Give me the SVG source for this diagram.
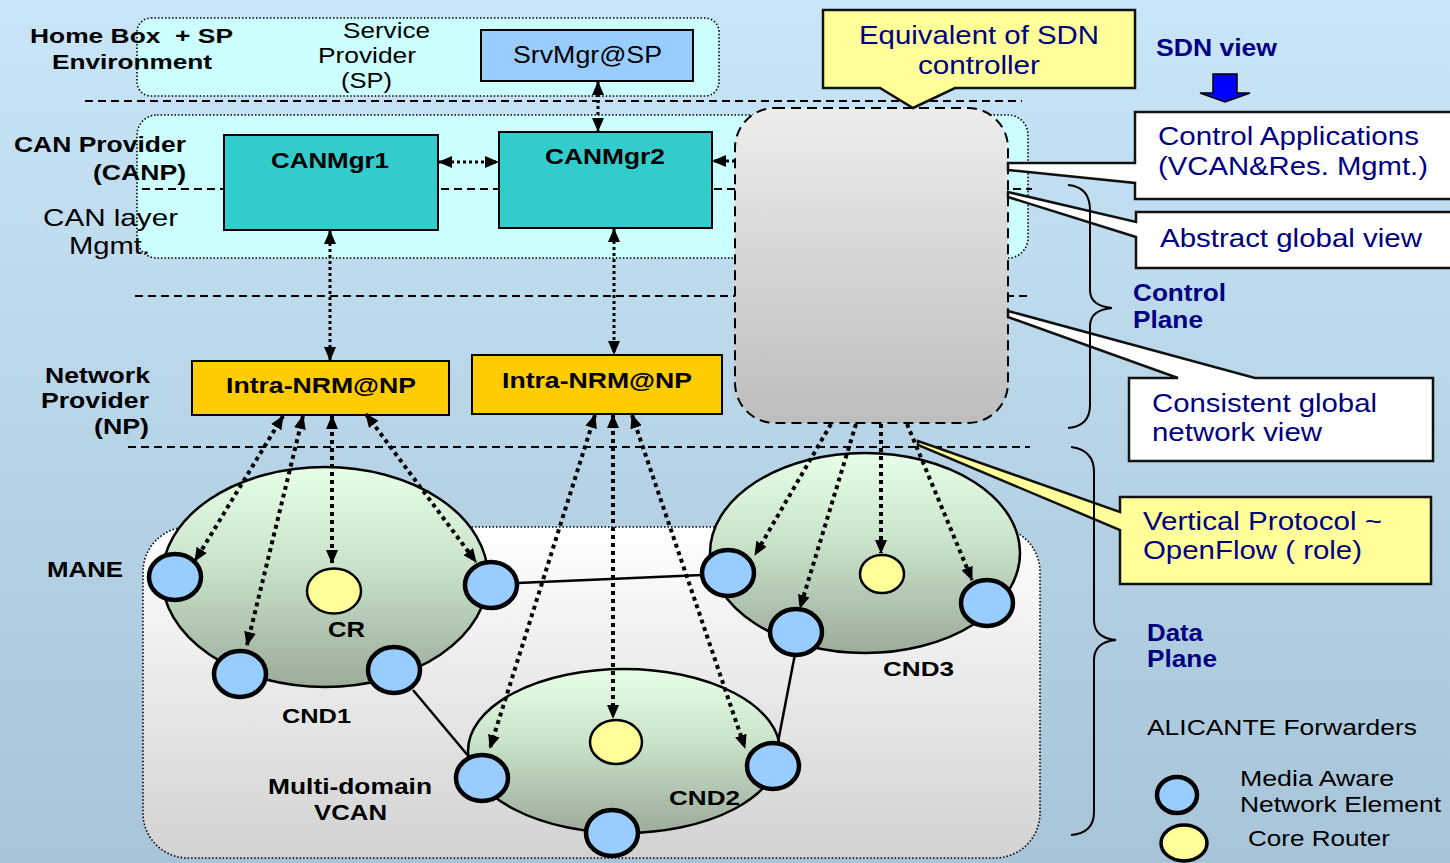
<svg xmlns="http://www.w3.org/2000/svg" width="1450" height="863" viewBox="0 0 1450 863">
<defs>
<linearGradient id="bg" x1="0" y1="0" x2="0" y2="1"><stop offset="0" stop-color="#c8e6f8"/><stop offset="1" stop-color="#a8c4d8"/></linearGradient>
<linearGradient id="ctrl" x1="0" y1="0" x2="0" y2="1"><stop offset="0" stop-color="#ededed"/><stop offset="1" stop-color="#bdbdbd"/></linearGradient>
<linearGradient id="data" x1="0" y1="0" x2="0" y2="1"><stop offset="0" stop-color="#ffffff"/><stop offset="1" stop-color="#d2d2d2"/></linearGradient>
<linearGradient id="cnd" x1="0" y1="0" x2="0" y2="1"><stop offset="0" stop-color="#e6ffe6"/><stop offset="0.45" stop-color="#c9e2c9"/><stop offset="1" stop-color="#9cab9a"/></linearGradient>
<marker id="ah" viewBox="0 0 14 12" refX="13" refY="6" markerWidth="14" markerHeight="12" markerUnits="userSpaceOnUse" orient="auto-start-reverse"><path d="M0,0 L14,6 L0,12 z" fill="#000"/></marker>
</defs>
<style>
text{font-family:"Liberation Sans",Arial,sans-serif;fill:#000}
.b{font-weight:bold}
.n{fill:#000080}
.dash{stroke:#000;stroke-width:2;stroke-dasharray:8 5;fill:none}
.dot{stroke:#000;stroke-width:1.6;stroke-dasharray:1.5 2;}
.mane{fill:#99ccff;stroke:#000;stroke-width:4.5}
.cr{fill:#ffff99;stroke:#000;stroke-width:2.5}
.cnd{fill:url(#cnd);stroke:#000;stroke-width:2.5}
.link{stroke:#000;stroke-width:2.5;fill:none}
.fa{stroke:#000;stroke-width:3;stroke-dasharray:3 3;fill:none}
.ta{stroke:#000;stroke-width:4;stroke-dasharray:4 4;fill:none}
.call{stroke:#111;stroke-width:2.5}
.brace{stroke:#000;stroke-width:2;fill:none}
</style>
<rect x="0" y="0" width="1450" height="863" fill="url(#bg)"/>

<!-- regions -->
<g id="region-home"><rect x="137" y="18" width="582" height="78" rx="14" fill="#ccffff" class="dot"/></g>
<g id="region-can"><rect x="137" y="115" width="891" height="143" rx="20" fill="#ccffff" class="dot"/></g>
<g id="separators">
<line x1="85" y1="101" x2="1022" y2="101" class="dash"/>
<line x1="142" y1="189" x2="1032" y2="189" class="dash"/>
<line x1="135" y1="296" x2="1028" y2="296" class="dash"/>
<line x1="128" y1="447" x2="1030" y2="447" class="dash"/>
</g>
<g id="region-data"><rect x="143" y="527" width="897" height="331" rx="45" fill="url(#data)" class="dot"/></g>

<!-- domains -->
<g id="cnd1"><ellipse cx="325" cy="577" rx="163" ry="110" class="cnd"/></g>
<g id="cnd2"><ellipse cx="624" cy="751" rx="156" ry="82" class="cnd"/></g>
<g id="cnd3"><ellipse cx="865" cy="553" rx="155" ry="100" class="cnd"/></g>

<!-- controller -->
<g id="sdn-controller"><rect x="735" y="108" width="273" height="315" rx="40" fill="url(#ctrl)" stroke="#000" stroke-width="2" stroke-dasharray="10 6"/></g>

<!-- boxes -->
<g id="srvmgr"><rect x="481" y="30" width="212" height="51" fill="#99ccff" stroke="#000" stroke-width="2"/>
<text x="513" y="63" font-size="24" textLength="149" lengthAdjust="spacingAndGlyphs">SrvMgr@SP</text></g>
<g id="canmgr1"><rect x="224" y="135" width="214" height="95" fill="#33cccc" stroke="#000" stroke-width="2"/>
<text x="271" y="168" font-size="22" class="b" textLength="118" lengthAdjust="spacingAndGlyphs">CANMgr1</text></g>
<g id="canmgr2"><rect x="499" y="132" width="213" height="96" fill="#33cccc" stroke="#000" stroke-width="2"/>
<text x="545" y="164" font-size="22" class="b" textLength="120" lengthAdjust="spacingAndGlyphs">CANMgr2</text></g>
<g id="nrm1"><rect x="192" y="361" width="257" height="54" fill="#ffcc00" stroke="#000" stroke-width="2"/>
<text x="226" y="393" font-size="22" class="b" textLength="190" lengthAdjust="spacingAndGlyphs">Intra-NRM@NP</text></g>
<g id="nrm2"><rect x="472" y="355" width="250" height="59" fill="#ffcc00" stroke="#000" stroke-width="2"/>
<text x="502" y="388" font-size="22" class="b" textLength="190" lengthAdjust="spacingAndGlyphs">Intra-NRM@NP</text></g>

<!-- callouts -->
<g id="callout-sdn"><path d="M823,10 H1135 V88 H955 L913,108 L880,88 H823 Z" fill="#ffff99" class="call"/>
<text x="859" y="44" font-size="26" class="n" textLength="240" lengthAdjust="spacingAndGlyphs">Equivalent of SDN</text>
<text x="918" y="74" font-size="26" class="n" textLength="122" lengthAdjust="spacingAndGlyphs">controller</text></g>
<g id="callout-apps"><path d="M1135,112 H1453 V199 H1135 V183 L1008,170 L1008,163 H1135 Z" fill="#fff" class="call"/>
<text x="1158" y="145" font-size="26" class="n" textLength="261" lengthAdjust="spacingAndGlyphs">Control Applications</text>
<text x="1158" y="175" font-size="26" class="n" textLength="270" lengthAdjust="spacingAndGlyphs">(VCAN&amp;Res. Mgmt.)</text></g>
<g id="callout-abstract"><path d="M1136,212 H1453 V268 H1136 V237 L1008,197 L1008,192 L1136,222 Z" fill="#fff" class="call"/>
<text x="1160" y="247" font-size="26" class="n" textLength="262" lengthAdjust="spacingAndGlyphs">Abstract global view</text></g>
<g id="callout-consistent"><path d="M1129,378 H1178 L1008,317 L1008,311 L1255,378 H1433 V461 H1129 Z" fill="#fff" class="call"/>
<text x="1152" y="412" font-size="26" class="n" textLength="225" lengthAdjust="spacingAndGlyphs">Consistent global</text>
<text x="1152" y="441" font-size="26" class="n" textLength="170" lengthAdjust="spacingAndGlyphs">network view</text></g>
<g id="callout-protocol"><path d="M1120,497 H1431 V584 H1120 V530 L918,445 L918,441 L1120,512 Z" fill="#ffff99" class="call"/>
<text x="1143" y="530" font-size="26" class="n" textLength="239" lengthAdjust="spacingAndGlyphs">Vertical Protocol ~</text>
<text x="1143" y="559" font-size="26" class="n" textLength="219" lengthAdjust="spacingAndGlyphs">OpenFlow ( role)</text></g>

<g id="sdn-view"><text x="1156" y="56" font-size="23" class="b n" textLength="121" lengthAdjust="spacingAndGlyphs">SDN view</text>
<polygon points="1213,74 1237,74 1237,93 1250,93 1225,102 1200,93 1213,93" fill="#0000ff" stroke="#000" stroke-width="1.5"/></g>

<!-- braces -->
<g id="brace-control"><path class="brace" d="M1068,185 Q1090,187 1090,210 L1090,290 Q1090,306 1112,308 Q1090,310 1090,326 L1090,405 Q1090,426 1068,428"/>
<text x="1133" y="301" font-size="23" class="b n" textLength="93" lengthAdjust="spacingAndGlyphs">Control</text>
<text x="1133" y="328" font-size="23" class="b n" textLength="70" lengthAdjust="spacingAndGlyphs">Plane</text></g>
<g id="brace-data"><path class="brace" d="M1071,447 Q1094,450 1094,472 L1094,620 Q1094,638 1116,640 Q1094,642 1094,660 L1094,812 Q1094,833 1071,835"/>
<text x="1147" y="641" font-size="23" class="b n" textLength="56" lengthAdjust="spacingAndGlyphs">Data</text>
<text x="1147" y="667" font-size="23" class="b n" textLength="70" lengthAdjust="spacingAndGlyphs">Plane</text></g>

<!-- connectors -->
<g id="connectors">
<line x1="518" y1="583" x2="702" y2="575" class="link"/>
<line x1="413" y1="690" x2="470" y2="758" class="link"/>
<line x1="795" y1="654" x2="778" y2="742" class="link"/>
<line x1="598" y1="82" x2="598" y2="131" class="fa" marker-start="url(#ah)" marker-end="url(#ah)"/>
<line x1="439" y1="162" x2="498" y2="162" class="fa" marker-start="url(#ah)" marker-end="url(#ah)"/>
<line x1="735" y1="161" x2="713" y2="161" class="fa" marker-end="url(#ah)"/>
<line x1="330" y1="231" x2="330" y2="360" class="fa" marker-start="url(#ah)" marker-end="url(#ah)"/>
<line x1="614" y1="229" x2="614" y2="354" class="fa" marker-start="url(#ah)" marker-end="url(#ah)"/>
<line x1="283" y1="416" x2="195" y2="561" class="ta" marker-start="url(#ah)" marker-end="url(#ah)"/>
<line x1="303" y1="416" x2="247" y2="645" class="ta" marker-start="url(#ah)" marker-end="url(#ah)"/>
<line x1="332" y1="416" x2="332" y2="563" class="ta" marker-start="url(#ah)" marker-end="url(#ah)"/>
<line x1="366" y1="414" x2="476" y2="562" class="ta" marker-start="url(#ah)" marker-end="url(#ah)"/>
<line x1="595" y1="415" x2="490" y2="748" class="ta" marker-start="url(#ah)" marker-end="url(#ah)"/>
<line x1="613" y1="415" x2="613" y2="718" class="ta" marker-start="url(#ah)" marker-end="url(#ah)"/>
<line x1="632" y1="415" x2="745" y2="748" class="ta" marker-start="url(#ah)" marker-end="url(#ah)"/>
<line x1="831" y1="424" x2="755" y2="555" class="ta" marker-end="url(#ah)"/>
<line x1="856" y1="424" x2="800" y2="608" class="ta" marker-end="url(#ah)"/>
<line x1="881" y1="424" x2="881" y2="553" class="ta" marker-end="url(#ah)"/>
<line x1="907" y1="424" x2="972" y2="580" class="ta" marker-end="url(#ah)"/>
</g>

<!-- nodes -->
<g id="cnd1-nodes">
<ellipse cx="175" cy="577" rx="26" ry="23" class="mane"/>
<ellipse cx="491" cy="585" rx="26" ry="23" class="mane"/>
<ellipse cx="240" cy="674" rx="26" ry="23" class="mane"/>
<ellipse cx="394" cy="670" rx="26" ry="23" class="mane"/>
<ellipse cx="334" cy="591" rx="27" ry="22.5" class="cr"/>
</g>
<g id="cnd2-nodes">
<ellipse cx="482" cy="778" rx="26" ry="23" class="mane"/>
<ellipse cx="773" cy="766" rx="26" ry="23" class="mane"/>
<ellipse cx="612" cy="833" rx="26" ry="23" class="mane"/>
<ellipse cx="616" cy="742" rx="26" ry="22" class="cr"/>
</g>
<g id="cnd3-nodes">
<ellipse cx="728" cy="573" rx="26" ry="23" class="mane"/>
<ellipse cx="796" cy="632" rx="26" ry="23" class="mane"/>
<ellipse cx="987" cy="603" rx="26" ry="23" class="mane"/>
<ellipse cx="882" cy="574" rx="22" ry="19" class="cr"/>
</g>

<!-- labels -->
<g id="labels">
<text x="30" y="43" font-size="21" class="b" xml:space="preserve" textLength="203" lengthAdjust="spacingAndGlyphs">Home Box  + SP</text>
<text x="52" y="69" font-size="21" class="b" textLength="160" lengthAdjust="spacingAndGlyphs">Environment</text>
<text x="343" y="38" font-size="22" textLength="87" lengthAdjust="spacingAndGlyphs">Service</text>
<text x="318" y="63" font-size="22" textLength="98" lengthAdjust="spacingAndGlyphs">Provider</text>
<text x="341" y="88" font-size="22" textLength="51" lengthAdjust="spacingAndGlyphs">(SP)</text>
<text x="14" y="152" font-size="22" class="b" textLength="172" lengthAdjust="spacingAndGlyphs">CAN Provider</text>
<text x="93" y="180" font-size="22" class="b" textLength="93" lengthAdjust="spacingAndGlyphs">(CANP)</text>
<text x="43" y="226" font-size="24" textLength="135" lengthAdjust="spacingAndGlyphs">CAN layer</text>
<text x="69" y="254" font-size="24" textLength="81" lengthAdjust="spacingAndGlyphs">Mgmt.</text>
<text x="45" y="383" font-size="22" class="b" textLength="105" lengthAdjust="spacingAndGlyphs">Network</text>
<text x="41" y="408" font-size="22" class="b" textLength="108" lengthAdjust="spacingAndGlyphs">Provider</text>
<text x="94" y="434" font-size="22" class="b" textLength="55" lengthAdjust="spacingAndGlyphs">(NP)</text>
<text x="47" y="577" font-size="22" class="b" textLength="76" lengthAdjust="spacingAndGlyphs">MANE</text>
<text x="328" y="637" font-size="22" class="b" textLength="37" lengthAdjust="spacingAndGlyphs">CR</text>
<text x="282" y="723" font-size="21" class="b" textLength="69" lengthAdjust="spacingAndGlyphs">CND1</text>
<text x="268" y="794" font-size="22" class="b" textLength="164" lengthAdjust="spacingAndGlyphs">Multi-domain</text>
<text x="314" y="820" font-size="22" class="b" textLength="73" lengthAdjust="spacingAndGlyphs">VCAN</text>
<text x="669" y="805" font-size="21" class="b" textLength="71" lengthAdjust="spacingAndGlyphs">CND2</text>
<text x="883" y="676" font-size="21" class="b" textLength="71" lengthAdjust="spacingAndGlyphs">CND3</text>
</g>

<!-- legend -->
<g id="legend">
<text x="1147" y="735" font-size="22" textLength="270" lengthAdjust="spacingAndGlyphs">ALICANTE Forwarders</text>
<ellipse cx="1177" cy="795" rx="20" ry="18" class="mane"/>
<text x="1240" y="786" font-size="22" textLength="154" lengthAdjust="spacingAndGlyphs">Media Aware</text>
<text x="1240" y="812" font-size="22" textLength="201" lengthAdjust="spacingAndGlyphs">Network Element</text>
<ellipse cx="1184" cy="843" rx="23" ry="18" fill="#ffff99" stroke="#000" stroke-width="3.5"/>
<text x="1248" y="846" font-size="22" textLength="142" lengthAdjust="spacingAndGlyphs">Core Router</text>
</g>
</svg>
